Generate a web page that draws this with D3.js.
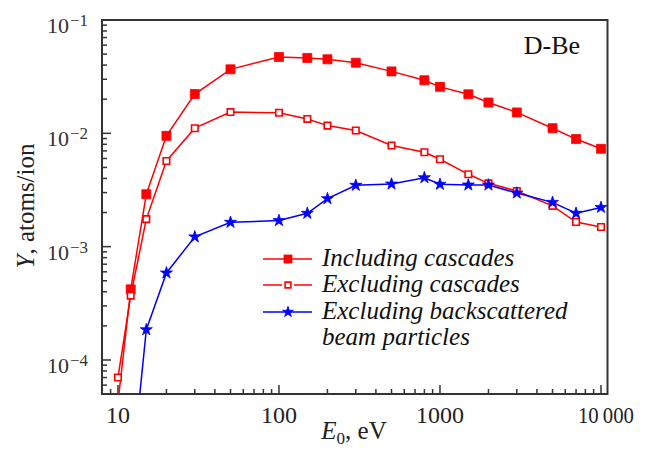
<!DOCTYPE html>
<html><head><meta charset="utf-8">
<script src="https://cdn.jsdelivr.net/npm/d3@7"></script>
<style>body{margin:0;background:#fff;} svg{display:block;}</style>
</head><body>
<script>
const energies = [10, 12, 15, 20, 30, 50, 100, 150, 200, 300, 500, 800, 1000, 1500, 2000, 3000, 5000, 7000, 10000];
const includingCascades = [4.2e-5, 4.2e-4, 2.9e-3, 9.5e-3, 0.0222, 0.0367, 0.0472, 0.0463, 0.045, 0.042, 0.0352, 0.0294, 0.0257, 0.0221, 0.0187, 0.0153, 0.0111, 0.0089, 0.0073];
const excludingCascades = [7.0e-5, 3.7e-4, 1.75e-3, 5.7e-3, 0.0111, 0.0154, 0.0152, 0.0134, 0.0117, 0.0106, 0.0078, 0.0068, 0.0059, 0.00435, 0.00362, 0.0031, 0.00229, 0.00165, 0.00149];
const excludingBackscattered = [null, 8e-6, 1.85e-4, 5.86e-4, 1.22e-3, 1.64e-3, 1.70e-3, 1.97e-3, 2.65e-3, 3.48e-3, 3.57e-3, 4.06e-3, 3.55e-3, 3.5e-3, 3.5e-3, 2.97e-3, 2.46e-3, 1.97e-3, 2.22e-3];
const seriesNames = ["Including cascades", "Excluding cascades", "Excluding backscattered", "beam particles"];
const xTickValues = [10, 100, 1000, 10000];
const xTickLabels = ["10", "100", "1000", "10\u2009000"];
const yTickExponents = [-1, -2, -3, -4];

(function () {
const W = 648, H = 459;
const mLeft = 102, mRight = 607.5, mTop = 20, mBottom = 394;
const svg = d3.select("body").append("svg").attr("width", W).attr("height", H);
const x = d3.scaleLog().domain([7.96, 10975]).range([mLeft, mRight]);
const y = d3.scaleLog().domain([5.01e-5, 0.1]).range([mBottom, mTop]);
const font = "Liberation Serif";

svg.append("defs").append("clipPath").attr("id", "clip")
  .append("rect").attr("x", mLeft).attr("y", mTop).attr("width", mRight - mLeft).attr("height", mBottom - mTop);

const axisColor = "#333";
svg.append("rect").attr("x", mLeft).attr("y", mTop).attr("width", mRight - mLeft).attr("height", mBottom - mTop)
  .attr("fill", "none").attr("stroke", axisColor).attr("stroke-width", 2);

// x ticks
const xMinor = [];
[1, 10, 100, 1000].forEach(d => { for (let k = 2; k <= 9; k++) xMinor.push(d * k); });
const xMinorIn = xMinor.filter(v => x(v) > mLeft + 1 && x(v) < mRight - 1);
svg.append("g").selectAll("line").data(xMinorIn).join("line")
  .attr("x1", d => x(d)).attr("x2", d => x(d)).attr("y1", mBottom).attr("y2", mBottom - 5)
  .attr("stroke", axisColor).attr("stroke-width", 1.5);
svg.append("g").selectAll("line").data(xTickValues).join("line")
  .attr("x1", d => x(d)).attr("x2", d => x(d)).attr("y1", mBottom).attr("y2", mBottom - 9)
  .attr("stroke", axisColor).attr("stroke-width", 1.5);
svg.append("g").selectAll("text").data(xTickValues).join("text")
  .attr("x", d => x(d) + (d === 10000 ? 5 : 0)).attr("y", 423)
  .attr("text-anchor", "middle").style("font-family", font).attr("font-size", 24).attr("fill", "#222")
  .each(function (d) { if (d === 10000) d3.select(this).attr("textLength", 56).attr("lengthAdjust", "spacingAndGlyphs"); })
  .text((d, i) => xTickLabels[i]);

// y ticks
const yMinor = [];
[1e-5, 1e-4, 1e-3, 1e-2].forEach(d => { for (let k = 2; k <= 9; k++) yMinor.push(d * k); });
const yMinorIn = yMinor.filter(v => y(v) < mBottom - 1 && y(v) > mTop + 1);
svg.append("g").selectAll("line").data(yMinorIn).join("line")
  .attr("x1", mLeft).attr("x2", mLeft + 5).attr("y1", d => y(d)).attr("y2", d => y(d))
  .attr("stroke", axisColor).attr("stroke-width", 1.5);
svg.append("g").selectAll("line").data(yTickExponents).join("line")
  .attr("x1", mLeft).attr("x2", mLeft + 9).attr("y1", d => y(Math.pow(10, d))).attr("y2", d => y(Math.pow(10, d)))
  .attr("stroke", axisColor).attr("stroke-width", 1.5);
const yt = svg.append("g").selectAll("text").data(yTickExponents).join("text")
  .attr("y", d => y(Math.pow(10, d)) + 13).style("font-family", font)
  .attr("font-size", 22).attr("fill", "#333");
yt.append("tspan").attr("x", 47).text("10");
yt.append("tspan").attr("dx", 1).attr("dy", -7).attr("font-size", 17).text(d => "\u2212" + Math.abs(d));

// axis titles
const yl = svg.append("text").attr("transform", "translate(34,206) rotate(-90)").style("font-family", font)
  .attr("text-anchor", "middle").attr("font-size", 25).attr("fill", "#222");
yl.append("tspan").attr("font-style", "italic").text("Y");
yl.append("tspan").text(", atoms/ion");
const xl = svg.append("text").attr("x", 354).attr("y", 439).style("font-family", font)
  .attr("text-anchor", "middle").attr("font-size", 25).attr("fill", "#222");
xl.append("tspan").attr("font-style", "italic").text("E");
xl.append("tspan").attr("font-size", 17).attr("dy", 5).text("0");
xl.append("tspan").attr("dy", -5).text(", eV");

svg.append("text").attr("x", 552).attr("y", 54).attr("text-anchor", "middle").style("font-family", font)
  .attr("font-size", 26).attr("fill", "#111").text("D-Be");

// series
const series = [
  {vals: includingCascades, color: "#ff0000", sym: d3.symbolSquare, size: 81, fill: "#ff0000"},
  {vals: excludingCascades, color: "#ff0000", sym: d3.symbolSquare, size: 42, fill: "#fff"},
  {vals: excludingBackscattered, color: "#0000ff", sym: d3.symbolStar, size: 45, fill: "#0000ff"}
];
const plot = svg.append("g").attr("clip-path", "url(#clip)");
const line = d3.line().x(d => x(d[0])).y(d => y(d[1]));
series.forEach(s => {
  const pts = energies.map((e, i) => [e, s.vals[i]]).filter(d => d[1] != null);
  plot.append("path").datum(pts).attr("d", line).attr("fill", "none")
    .attr("stroke", s.color).attr("stroke-width", 1.5);
});
series.forEach(s => {
  const pts = energies.map((e, i) => [e, s.vals[i]]).filter(d => d[1] != null);
  plot.append("g").selectAll("path").data(pts).join("path")
    .attr("transform", d => `translate(${x(d[0])},${y(d[1])})`)
    .attr("d", d3.symbol().type(s.sym).size(s.size))
    .attr("fill", s.fill).attr("stroke", s.color).attr("stroke-width", s.fill === "#fff" ? 1.6 : 0.8);
});

// legend
const legRows = [259, 285, 312];
series.forEach((s, i) => {
  const g = svg.append("g");
  g.append("line").attr("x1", 263).attr("x2", 312).attr("y1", legRows[i]).attr("y2", legRows[i])
    .attr("stroke", s.color).attr("stroke-width", 1.5);
  if (s.fill === "#fff") {
    g.append("path").attr("transform", `translate(288,${legRows[i]})`)
      .attr("d", d3.symbol().type(s.sym).size(s.size * 0.8))
      .attr("fill", "#fff").attr("stroke", "#fff").attr("stroke-width", 6);
  }
  g.append("path").attr("transform", `translate(288,${legRows[i]})`)
    .attr("d", d3.symbol().type(s.sym).size(s.size * 0.8))
    .attr("fill", s.fill).attr("stroke", s.color).attr("stroke-width", s.fill === "#fff" ? 1.6 : 0.8);
  g.append("text").attr("x", 322).attr("y", legRows[i] + 7).style("font-family", font)
    .attr("font-style", "italic").attr("font-size", 25).attr("fill", "#111").text(seriesNames[i]);
});
svg.append("text").attr("x", 322).attr("y", 345).style("font-family", font)
  .attr("font-style", "italic").attr("font-size", 25).attr("fill", "#111").text(seriesNames[3]);
})();
</script>
</body></html>
